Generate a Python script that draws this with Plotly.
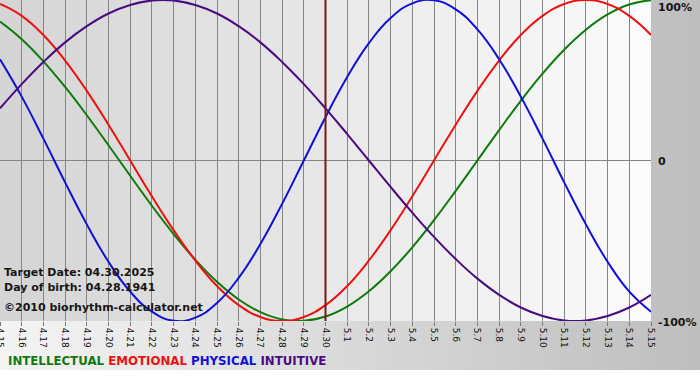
import plotly.graph_objects as go

days = ["4.15", "4.16", "4.17", "4.18", "4.19", "4.20", "4.21", "4.22", "4.23", "4.24",
        "4.25", "4.26", "4.27", "4.28", "4.29", "4.30", "5.1", "5.2", "5.3", "5.4",
        "5.5", "5.6", "5.7", "5.8", "5.9", "5.10", "5.11", "5.12", "5.13", "5.14", "5.15"]

physical = [0.631, 0.398, 0.136, -0.136, -0.398, -0.631, -0.817, -0.942, -0.998, -0.979,
            -0.888, -0.731, -0.520, -0.270, 0.000, 0.270, 0.520, 0.731, 0.888, 0.979,
            0.998, 0.942, 0.817, 0.631, 0.398, 0.136, -0.136, -0.398, -0.631, -0.817, -0.942]
emotional = [0.975, 0.901, 0.782, 0.623, 0.434, 0.223, 0.000, -0.223, -0.434, -0.623,
             -0.782, -0.901, -0.975, -1.000, -0.975, -0.901, -0.782, -0.623, -0.434, -0.223,
             0.000, 0.223, 0.434, 0.623, 0.782, 0.901, 0.975, 1.000, 0.975, 0.901, 0.782]
intellectual = [0.866, 0.756, 0.618, 0.458, 0.282, 0.095, -0.095, -0.282, -0.458, -0.618,
                -0.756, -0.866, -0.945, -0.990, -0.999, -0.972, -0.910, -0.815, -0.690, -0.541,
                -0.372, -0.189, 0.000, 0.189, 0.372, 0.541, 0.690, 0.815, 0.910, 0.972, 0.999]
intuitive = [0.325, 0.476, 0.614, 0.736, 0.837, 0.916, 0.969, 0.997, 0.997, 0.969,
             0.916, 0.837, 0.736, 0.614, 0.476, 0.325, 0.165, 0.000, -0.165, -0.325,
             -0.476, -0.614, -0.736, -0.837, -0.916, -0.969, -0.997, -0.997, -0.969, -0.916, -0.837]

target_day = "4.30"
y_ticks = [-1, 0, 1]
y_labels = ["-100%", "0", "100%"]

series = [
    ("INTELLECTUAL", intellectual, "#0e7a0e"),
    ("EMOTIONAL", emotional, "#ee1111"),
    ("PHYSICAL", physical, "#1010d8"),
    ("INTUITIVE", intuitive, "#4b0a82"),
]

xs = list(range(len(days)))
fig = go.Figure()
for name, vals, col in series:
    fig.add_trace(go.Scatter(x=xs, y=vals, mode="lines", name=name,
                             line=dict(color=col, width=2, shape="spline", smoothing=1.3),
                             hoverinfo="skip"))

W, H = 700, 380
ml, mr, mt, mb = 0, 49, 0, 59
pw, ph = W - ml - mr, H - mt - mb

shapes = []
# outer gradient (whole chart area to y=370px)
n_out = 70
y_bottom = -(370 - ph) / ph
x_right = W / pw
for i in range(n_out):
    f = i / (n_out - 1)
    c = int(round(244 - f * (244 - 190)))
    shapes.append(dict(type="rect", xref="paper", yref="paper",
                       x0=i * x_right / n_out, x1=(i + 1) * x_right / n_out + 0.002,
                       y0=y_bottom, y1=1.01, line=dict(width=0),
                       fillcolor=f"rgb({c},{c},{c})", layer="below"))
# plot area stripes per day
nd = len(days) - 1
for i in range(nd):
    f = i / (nd - 1)
    c = int(round(213 - f * (213 - 251)))
    shapes.append(dict(type="rect", xref="x", yref="paper", x0=i, x1=i + 1,
                       y0=0, y1=1, line=dict(width=0),
                       fillcolor=f"rgb({c},{c},{c})", layer="below"))
# target day line
ti = days.index(target_day)
shapes.append(dict(type="line", xref="x", yref="paper", x0=ti, x1=ti, y0=0, y1=1,
                   line=dict(color="#7a1818", width=2), layer="above", opacity=1))

font_b = "DejaVu Sans"
annotations = []
for txt, ypx in [("Target Date: 04.30.2025", 272), ("Day of birth: 04.28.1941", 287),
                 ("©2010 biorhythm-calculator.net", 307)]:
    annotations.append(dict(text=txt, xref="paper", yref="paper", x=2 / pw,
                            y=1 - ypx / ph, xanchor="left", yanchor="middle",
                            showarrow=False,
                            font=dict(family=font_b, size=11, color="#161616", weight="bold")))
# right axis labels
for yv, lab, shift in zip(y_ticks, y_labels, [-1, -1, -7]):
    annotations.append(dict(text=lab, xref="paper", yref="y", x=1, y=yv,
                            xanchor="left", yanchor="middle", xshift=5, yshift=shift,
                            showarrow=False,
                            font=dict(family=font_b, size=11, color="#161616", weight="bold")))
legend_html = " ".join(f"<span style='color:{c}'>{n}</span>" for n, _, c in series)
annotations.append(dict(text=legend_html, xref="paper", yref="paper", x=6 / pw,
                        y=1 - 361 / ph, xanchor="left", yanchor="middle", showarrow=False,
                        font=dict(family=font_b, size=11.8, weight="bold")))

fig.update_layout(
    width=W, height=H,
    margin=dict(l=ml, r=mr, t=mt, b=mb, pad=0, autoexpand=False),
    paper_bgcolor="white",
    plot_bgcolor="rgba(0,0,0,0)",
    showlegend=False,
    shapes=shapes,
    annotations=annotations,
    xaxis=dict(range=[0, nd], tickvals=xs, ticktext=days, tickangle=90,
               ticks="outside", ticklen=4, tickcolor="#7a7a7a",
               showgrid=True, gridcolor="#858585", gridwidth=1,
               zeroline=False, showline=False, fixedrange=True, automargin=False,
               ticklabeloverflow="allow",
               tickfont=dict(family="DejaVu Sans", size=9, color="#111111")),
    yaxis=dict(range=[-1, 1], tickvals=y_ticks, showticklabels=False,
               showgrid=True, gridcolor="#858585", gridwidth=1,
               zeroline=False, showline=False, fixedrange=True, automargin=False),
)

fig.write_html("out.html", config={"displayModeBar": False},
               post_script="document.body.style.margin='0';document.body.style.padding='0';")
